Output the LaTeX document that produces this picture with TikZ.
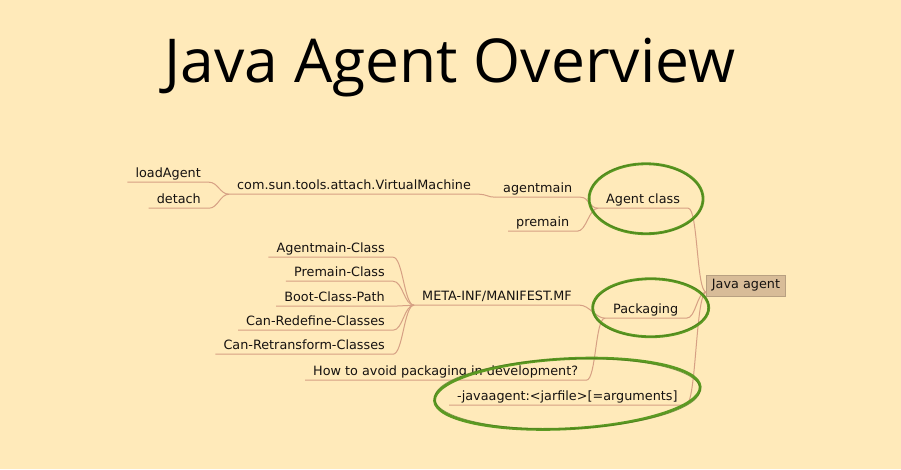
\documentclass[tikz,border=0pt]{standalone}
\usepackage{fontspec}
\usepackage{tikz}
\setmainfont{DejaVu Sans}
\newfontfamily\titlefont{Open Sans}
\definecolor{paper}{RGB}{255,234,186}
\definecolor{twig}{RGB}{214,160,132}
\definecolor{marker}{RGB}{92,154,34}
\definecolor{rootfill}{RGB}{216,188,152}
\definecolor{ink}{RGB}{22,18,16}
\usetikzlibrary{calc}

\begin{document}
\begin{tikzpicture}[
  x=1pt, y=-1pt,
  every node/.style={font=\fontsize{12.8}{15}\selectfont, text=ink},
  topic/.style={inner xsep=8pt, inner ysep=0pt, text height=9.5pt, text depth=5pt},
  left topic/.style={topic, anchor=base east},
  right topic/.style={topic, anchor=base west},
  twig line/.style={draw=twig, line width=1pt},
  branch/.style={out=0, in=180, distance=#1},
  branch/.default=9pt,
  ring/.style={draw=marker, line width=2.8pt},
  thin ring/.style={draw=marker!80!black, line width=0.8pt, opacity=0.7},
]
  \fill[paper] (0,0) rectangle (901,469);

  \node[anchor=base, font=\titlefont\fontsize{60.5}{70}\selectfont, text=black]
    (title) at (450,82) {Java Agent Overview};

  % root
  \node[fill=rootfill, draw=rootfill!85!black, line width=0.3pt,
        inner xsep=5.5pt, minimum height=21pt] (java) at (746,285.5) {Java agent};
  \coordinate (jin) at ([yshift=4pt]java.south west);

  % agent class branch
  \node[right topic] (agentc) at (598,203) {Agent class};
  \node[right topic] (agentmain) at (495,192) {agentmain};
  \node[right topic] (premain) at (508,226) {premain};
  \node[right topic] (vm) at (229,189) {com.sun.tools.attach.VirtualMachine};
  \node[left topic] (load) at (209,177) {loadAgent};
  \node[left topic] (detach) at (209,203) {detach};

  % packaging branch
  \node[right topic] (pack) at (605,313) {Packaging};
  \node[right topic] (meta) at (414,300) {META-INF/MANIFEST.MF};
  \node[left topic] (mfa) at (393,252) {Agentmain-Class};
  \node[left topic] (mfp) at (393,276) {Premain-Class};
  \node[left topic] (mfb) at (393,301) {Boot-Class-Path};
  \node[left topic] (mfr) at (393,325) {Can-Redefine-Classes};
  \node[left topic] (mft) at (393,349) {Can-Retransform-Classes};
  \node[right topic] (avoid) at (305,375) {How to avoid packaging in development?};
  \node[right topic] (javaag) at (449,400) {-javaagent:<jarfile>[=arguments]};

  % connectors
  \draw[twig line] (agentc.south west) -- (agentc.south east) to[branch=10pt] (jin);
  \draw[twig line] (pack.south west) -- (pack.south east) to[branch=10pt] (jin);
  \draw[twig line] (javaag.south west) -- (javaag.south east) to[branch=11pt] (jin);
  \draw[twig line] (agentmain.south west) -- (agentmain.south east) to[branch] (agentc.south west);
  \draw[twig line] (premain.south west) -- (premain.south east) to[branch] (agentc.south west);
  \draw[twig line] (vm.south west) -- (vm.south east) to[branch=7pt] (agentmain.south west);
  \draw[twig line] (load.south west) -- (load.south east) to[branch] (vm.south west);
  \draw[twig line] (detach.south west) -- (detach.south east) to[branch] (vm.south west);
  \draw[twig line] (meta.south west) -- (meta.south east) to[branch] (pack.south west);
  \draw[twig line] (avoid.south west) -- (avoid.south east) to[branch=10pt] (pack.south west);
  \foreach \leaf in {mfa,mfp,mfb,mfr,mft}
    \draw[twig line] (\leaf.south west) -- (\leaf.south east) to[branch=10pt] (meta.south west);

  % hand drawn rings
  \coordinate (ra) at ($(agentc.center)+(3,-2)$);
  \coordinate (rp) at ($(pack.center)+(5,-3)$);
  \coordinate (rj) at ($(javaag.center)+(0,-4)$);
  \draw[ring] (ra) ellipse [x radius=57pt, y radius=35pt];
  \draw[thin ring, rotate around={-1.5:(ra)}] (ra) ellipse [x radius=57pt, y radius=35pt];
  \draw[ring] (rp) ellipse [x radius=58pt, y radius=29pt];
  \draw[thin ring, rotate around={1.5:(rp)}] (rp) ellipse [x radius=58pt, y radius=29pt];
  \draw[ring, rotate around={3:(rj)}] (rj) ellipse [x radius=133pt, y radius=35pt];
  \draw[thin ring, rotate around={2:(rj)}] (rj) ellipse [x radius=133pt, y radius=35pt];
\end{tikzpicture}
\end{document}
